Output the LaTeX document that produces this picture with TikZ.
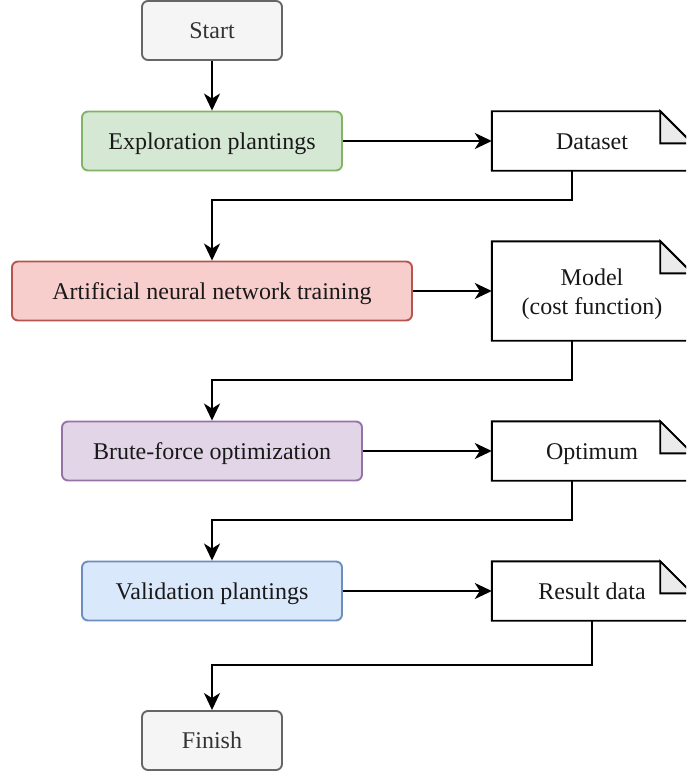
\documentclass[tikz,border=0pt]{standalone}
\usepackage{fontspec}
\setmainfont{Liberation Serif}
\usetikzlibrary{arrows.meta}

\definecolor{termfill}{HTML}{F5F5F5}
\definecolor{termline}{HTML}{666666}
\definecolor{termtext}{HTML}{333333}
\definecolor{greenfill}{HTML}{D5E8D4}
\definecolor{greenline}{HTML}{82B366}
\definecolor{redfill}{HTML}{F8CECC}
\definecolor{redline}{HTML}{B85450}
\definecolor{purplefill}{HTML}{E1D5E7}
\definecolor{purpleline}{HTML}{9673A6}
\definecolor{bluefill}{HTML}{DAE8FC}
\definecolor{blueline}{HTML}{6C8EBF}
\definecolor{foldfill}{HTML}{EBEBEB}

\tikzset{
  label text/.style={font=\fontsize{24}{29}\selectfont, text=black!90,
    text height=21.4pt, text depth=5.2pt, align=center, inner sep=0pt},
  base/.style={label text, rectangle, rounded corners=6pt, line width=1.9pt,
    minimum height=59pt},
  terminal/.style={base, fill=termfill, draw=termline, text=termtext,
    minimum width=140pt},
  process/.style={base, minimum width=#1},
  docnode/.style={label text, rectangle, draw=none, minimum width=200pt},
  flow/.style={line width=2pt,
    -{Stealth[length=17pt, width=16pt, inset=5pt]}},
}

% note outline with a folded top-right corner
\newcommand{\notebox}[1]{%
  \filldraw[fill=white, draw=black, line width=1.9pt, line join=miter]
    (#1.south west) -- (#1.north west) -- ([xshift=-32pt]#1.north east)
    -- ([yshift=-32pt]#1.north east) -- (#1.south east) -- cycle;
  \filldraw[fill=foldfill, draw=black, line width=1.9pt, line join=miter]
    ([xshift=-32pt]#1.north east) -- ([xshift=-32pt, yshift=-32pt]#1.north east)
    -- ([yshift=-32pt]#1.north east) -- cycle;
}

\begin{document}
\begin{tikzpicture}[x=1pt, y=-1pt]
  \useasboundingbox (0,0) rectangle (686,773);
  \clip (0,0) rectangle (686,773);

  % process column
  \node[terminal] (start) at (212,30.5) {Start};
  \node[process=260pt, fill=greenfill, draw=greenline] (explore) at (212,141) {Exploration plantings};
  \node[process=400pt, fill=redfill, draw=redline] (ann) at (212,291) {Artificial neural network training};
  \node[process=300pt, fill=purplefill, draw=purpleline] (brute) at (212,451) {Brute-force optimization};
  \node[process=260pt, fill=bluefill, draw=blueline] (valid) at (212,591) {Validation plantings};
  \node[terminal] (finish) at (212,740.5) {Finish};

  % documents column
  \node[docnode, minimum height=59pt] (dataset) at (592,141) {};
  \node[docnode, minimum height=99pt] (model) at (592,291) {};
  \node[docnode, minimum height=59pt] (optimum) at (592,451) {};
  \node[docnode, minimum height=59pt] (result) at (592,591) {};
  \notebox{dataset}
  \notebox{model}
  \notebox{optimum}
  \notebox{result}
  \node[docnode] at (dataset.center) {Dataset};
  \node[docnode] at ([yshift=-15pt]model.center) {Model\\(cost function)};
  \node[docnode] at (optimum.center) {Optimum};
  \node[docnode] at (result.center) {Result data};

  % connectors
  \draw[flow] (start) -- (explore);
  \draw[flow] (explore) -- (dataset);
  \draw[flow] ([xshift=-20pt]dataset.south) |- (212,200) -- (ann);
  \draw[flow] (ann) -- (ann -| model.west);
  \draw[flow] ([xshift=-20pt]model.south) |- (212,380) -- (brute);
  \draw[flow] (brute) -- (optimum);
  \draw[flow] ([xshift=-20pt]optimum.south) |- (212,520) -- (valid);
  \draw[flow] (valid) -- (result);
  \draw[flow] (result.south) |- (212,665) -- (finish);
\end{tikzpicture}
\end{document}
